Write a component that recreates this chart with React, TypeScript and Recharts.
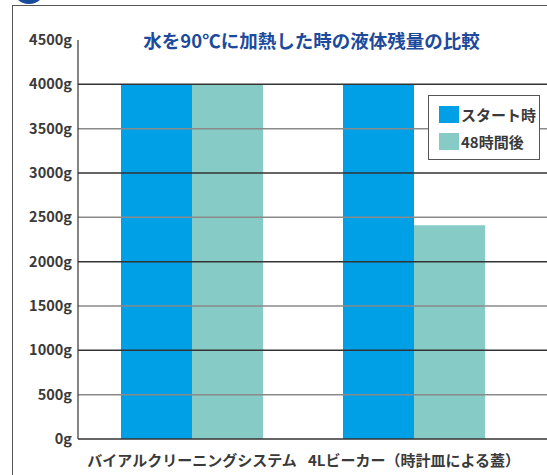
import React from "react";
import { BarChart, Bar, XAxis, YAxis, ReferenceLine } from "recharts";

const categories = ["バイアルクリーニングシステム", "4Lビーカー（時計皿による蓋）"];
const startValues = [4000, 4000];
const after48Values = [4000, 2410];
const yTicks = [0, 500, 1000, 1500, 2000, 2500, 3000, 3500, 4000, 4500];
const gridValues = [500, 1000, 1500, 2000, 2500, 3000, 3500, 4000];
const seriesNames = ["スタート時", "48時間後"];
const title = "水を90℃に加熱した時の液体残量の比較";

const BLUE = "#00a0e6";
const TEAL = "#86cbc5";
const FONT = "'Noto Sans CJK JP', 'Noto Sans', sans-serif";

const data = categories.map((c, i) => ({
  name: c,
  start: startValues[i],
  after: after48Values[i],
}));

const XTick = (props: any) => {
  const { x, y, payload } = props;
  return (
    <text
      x={x}
      y={y + 19}
      textAnchor="middle"
      fontFamily={FONT}
      fontWeight={700}
      fontSize={15}
      fill="#3a3a3a"
    >
      {payload.value}
    </text>
  );
};

const LegendBox = () => (
  <div
    style={{
      position: "absolute",
      left: 428,
      top: 95,
      width: 110,
      height: 63,
      border: "1.5px solid #555",
      background: "#fff",
      fontFamily: FONT,
      fontWeight: 700,
      fontSize: 15,
      color: "#3a3a3a",
    }}
  >
    {[BLUE, TEAL].map((col, i) => (
      <div
        key={i}
        style={{
          position: "absolute",
          left: 10,
          top: 10 + i * 27,
          display: "flex",
          alignItems: "center",
          lineHeight: "17px",
          whiteSpace: "nowrap",
        }}
      >
        <div style={{ width: 20, height: 17, background: col, marginRight: 2 }} />
        <span>{seriesNames[i]}</span>
      </div>
    ))}
  </div>
);

export default function App() {
  return (
    <div
      style={{
        position: "absolute",
        left: 0,
        top: 0,
        width: 547,
        height: 475,
        overflow: "hidden",
        background: "#fff",
      }}
    >
      <div
        style={{
          position: "absolute",
          left: 12,
          top: 5,
          width: 560,
          height: 500,
          borderTop: "1.5px solid #555",
          borderLeft: "1.5px solid #555",
        }}
      />
      <div
        style={{
          position: "absolute",
          left: 12,
          top: -30,
          width: 34,
          height: 34,
          borderRadius: "50%",
          background: "#1a4a9c",
        }}
      />
      <div style={{ position: "absolute", left: 0, top: 0 }}>
        <BarChart
          width={547}
          height={475}
          data={data}
          margin={{ top: 40, right: 0, bottom: 0, left: 0 }}
          barCategoryGap={40}
          barGap={0}
        >
          <XAxis
            dataKey="name"
            padding={{ left: 3, right: 22 }}
            axisLine={{ stroke: "#333", strokeWidth: 1.5 }}
            tickLine={false}
            height={36}
            tick={<XTick />}
            interval={0}
          />
          <YAxis
            domain={[0, 4500]}
            ticks={yTicks}
            width={78}
            interval={0}
            tickFormatter={(v: number) => `${v}g`}
            axisLine={{ stroke: "#333", strokeWidth: 1.2 }}
            tickLine={false}
            tickSize={4}
            tickMargin={2}
            tick={{ fill: "#3a3a3a", fontFamily: FONT, fontWeight: 700, fontSize: 14.5 }}
          />
          <Bar dataKey="start" name={seriesNames[0]} fill={BLUE} isAnimationActive={false} />
          <Bar dataKey="after" name={seriesNames[1]} fill={TEAL} isAnimationActive={false} />
          {gridValues.map((v, i) => (
            <ReferenceLine
              key={v}
              y={v}
              stroke={i % 2 === 0 ? "#8a8a8a" : "#333"}
              strokeWidth={1.5}
            />
          ))}
        </BarChart>
      </div>
      <LegendBox />
      <div
        style={{
          position: "absolute",
          left: 76,
          width: 471,
          top: 28,
          textAlign: "center",
          fontFamily: FONT,
          fontWeight: 700,
          fontSize: 18.5,
          lineHeight: "24px",
          color: "#1d4a9b",
          whiteSpace: "nowrap",
        }}
      >
        {title}
      </div>
    </div>
  );
}
